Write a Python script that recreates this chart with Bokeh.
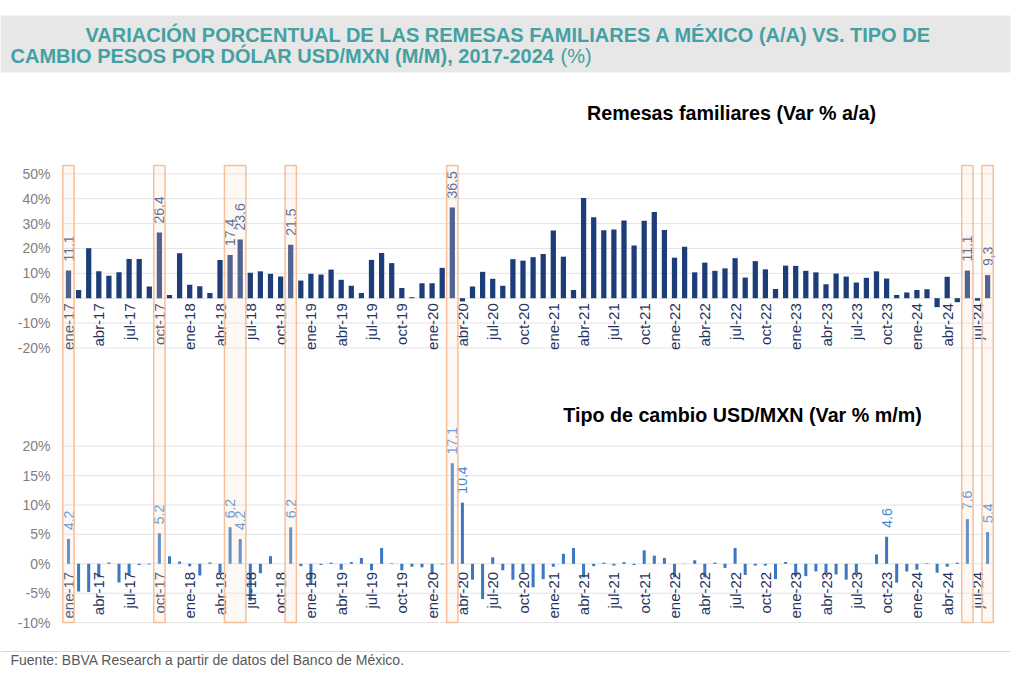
import math
from bokeh.plotting import figure
from bokeh.models import Range1d
from bokeh.core.properties import value
from bokeh.embed import file_html
from bokeh.resources import INLINE

# ---------------- data ----------------
# Monthly series, ene-17 ... ago-24 (92 months)
remesas = [
    11.1, 3.3, 20.1, 10.8, 9.0, 10.4, 15.8, 15.8, 4.7, 26.4, 1.3, 18.1,      # 2017
    5.4, 4.8, 2.1, 15.4, 17.4, 23.6, 10.2, 10.8, 9.8, 8.7, 21.5, 7.1,        # 2018
    9.8, 9.5, 11.5, 7.4, 5.0, 2.1, 15.4, 18.2, 14.1, 4.1, 0.4, 6.0,          # 2019
    6.0, 12.2, 36.5, -1.3, 4.7, 10.6, 7.8, 5.0, 15.7, 15.1, 16.5, 17.8,      # 2020
    27.2, 16.7, 3.3, 40.3, 32.5, 27.3, 27.6, 31.2, 21.2, 31.1, 34.7, 27.4,   # 2021
    16.3, 20.7, 10.4, 14.3, 11.0, 12.0, 16.1, 8.3, 14.9, 11.6, 3.7, 13.1,    # 2022
    13.0, 11.0, 10.4, 5.6, 9.9, 8.7, 6.3, 8.2, 10.8, 7.9, 1.3, 2.3,          # 2023
    3.3, 3.6, -3.6, 8.6, -1.6, 11.1, -1.0, 9.3,                              # 2024
]
tipo_cambio = [
    4.2, -4.7, -4.8, -2.3, 0.2, -3.2, -1.9, -0.2, -0.1, 5.2, 1.3, 0.4,       # 2017
    -0.4, -2.0, 0.2, -1.6, 6.2, 4.2, -6.3, -1.6, 1.3, 0.0, 6.2, -0.4,        # 2018
    -3.5, -0.2, 0.2, -1.0, 0.3, 1.0, -1.1, 2.7, 0.1, -1.1, -0.5, -0.6,       # 2019
    -1.8, -0.1, 17.1, 10.4, -2.7, -6.0, 1.1, -1.1, -2.7, -1.4, -4.0, -2.6,   # 2020
    -0.5, 1.7, 2.7, -2.3, -0.4, 0.2, -0.3, 0.3, -0.2, 2.3, 1.4, 1.0,         # 2021
    -2.3, -0.05, 0.6, -2.3, 0.2, -0.7, 2.7, -1.9, -0.3, -0.3, -2.6, 0.3,     # 2022
    -2.0, -2.1, -1.3, -1.7, -1.8, -2.7, -1.7, 0.0, 1.6, 4.6, -3.2, -1.3,     # 2023
    -1.0, 0.1, -1.5, -0.5, 0.2, 7.6, 0.0, 5.4,                               # 2024
]
tick_labels = [
    "ene-17", "abr-17", "jul-17", "oct-17",
    "ene-18", "abr-18", "jul-18", "oct-18",
    "ene-19", "abr-19", "jul-19", "oct-19",
    "ene-20", "abr-20", "jul-20", "oct-20",
    "ene-21", "abr-21", "jul-21", "oct-21",
    "ene-22", "abr-22", "jul-22", "oct-22",
    "ene-23", "abr-23", "jul-23", "oct-23",
    "ene-24", "abr-24", "jul-24",
]
tick_step = 3
rem_label_idx = [0, 9, 16, 17, 22, 38, 89, 91]
rem_label_txt = ["11.1", "26.4", "17.4", "23.6", "21.5", "36.5", "11.1", "9,3"]
fx_label_idx = [0, 9, 16, 17, 22, 38, 39, 81, 89, 91]
fx_label_txt = ["4.2", "5.2", "6.2", "4.2", "6.2", "17.1", "10.4", "4.6", "7.6", "5.4"]
highlight_first = [0, 9, 16, 22, 38, 89, 91]
highlight_last = [0, 9, 17, 22, 38, 89, 91]
rem_ticks = [-20, -10, 0, 10, 20, 30, 40, 50]
fx_ticks = [-10, -5, 0, 5, 10, 15, 20]

title_1 = "VARIACIÓN PORCENTUAL DE LAS REMESAS FAMILIARES A MÉXICO (A/A) VS. TIPO DE"
title_2 = "CAMBIO PESOS POR DÓLAR USD/MXN (M/M), 2017-2024"
title_2b = "(%)"
sub_top = "Remesas familiares (Var % a/a)"
sub_bot = "Tipo de cambio USD/MXN (Var % m/m)"
footer = "Fuente: BBVA Research a partir de datos del Banco de México."

# ---------------- layout geometry (page pixels) ----------------
W, H = 1016, 668
PX0, PY0 = 0, 0
X0_PX, DX_PX = 68.0, 10.1          # centre of first month, px per month
TOP_ZERO, TOP_UNIT = 297.7, 2.487  # top panel: y of 0 %, px per 1 %
BOT_ZERO, BOT_UNIT = 563.3, 5.88   # bottom panel

x_range = Range1d((PX0 - X0_PX) / DX_PX, (PX0 + W - X0_PX) / DX_PX)
top_range = Range1d((TOP_ZERO - (PY0 + H)) / TOP_UNIT, (TOP_ZERO - PY0) / TOP_UNIT)
bot_range = Range1d((BOT_ZERO - (PY0 + H)) / BOT_UNIT, (BOT_ZERO - PY0) / BOT_UNIT)

FONT = value("Liberation Sans")

p = figure(width=W, height=H, x_range=x_range, y_range=top_range,
           output_backend="svg", toolbar_location=None,
           x_axis_location=None, y_axis_location=None,
           min_border=0, outline_line_color=None,
           background_fill_color="white", border_fill_color="white")
p.extra_x_ranges = {"px": Range1d(PX0, PX0 + W)}
p.extra_y_ranges = {"fx": bot_range, "py": Range1d(PY0 + H, PY0)}
p.xgrid.visible = False
p.ygrid.visible = False

n = len(remesas)
months = list(range(n))

# title band
p.quad(left=[0], right=[1010], top=[15], bottom=[72], x_range_name="px", y_range_name="py",
       fill_color="#e7e7e7", line_color=None)
p.text(x=[85], y=[34], text=[title_1], x_range_name="px", y_range_name="py",
       text_font=FONT, text_font_size=value("20px"), text_font_style="bold",
       text_color="#43a1a3", text_align="left", text_baseline="middle")
p.text(x=[10], y=[55.5], text=[title_2], x_range_name="px", y_range_name="py",
       text_font=FONT, text_font_size=value("20px"), text_font_style="bold",
       text_color="#43a1a3", text_align="left", text_baseline="middle")
p.text(x=[560], y=[55.5], text=[title_2b], x_range_name="px", y_range_name="py",
       text_font=FONT, text_font_size=value("20px"), text_font_style="normal",
       text_color="#43a1a3", text_align="left", text_baseline="middle")

# subtitles
p.text(x=[731], y=[112.5], text=[sub_top], x_range_name="px", y_range_name="py",
       text_font=FONT, text_font_size=value("19.7px"), text_font_style="bold",
       text_color="black", text_align="center", text_baseline="middle")
p.text(x=[742], y=[414.5], text=[sub_bot], x_range_name="px", y_range_name="py",
       text_font=FONT, text_font_size=value("19.7px"), text_font_style="bold",
       text_color="black", text_align="center", text_baseline="middle")

# grid lines
g0, g1 = -0.6, n - 0.45
p.segment(x0=[g0] * len(rem_ticks), x1=[g1] * len(rem_ticks), y0=rem_ticks, y1=rem_ticks,
          line_color="#e3e3e3", line_width=1)
p.segment(x0=[g0] * len(fx_ticks), x1=[g1] * len(fx_ticks), y0=fx_ticks, y1=fx_ticks,
          y_range_name="fx", line_color="#e3e3e3", line_width=1)

# y tick labels
p.text(x=[50] * len(rem_ticks), y=rem_ticks, text=[f"{t}%" for t in rem_ticks],
       x_range_name="px", text_font=FONT, text_font_size=value("14px"),
       text_color="#7f7f7f", text_align="right", text_baseline="middle")
p.text(x=[50] * len(fx_ticks), y=fx_ticks, text=[f"{t}%" for t in fx_ticks],
       x_range_name="px", y_range_name="fx", text_font=FONT, text_font_size=value("14px"),
       text_color="#7f7f7f", text_align="right", text_baseline="middle")

# bars
p.vbar(x=months, top=remesas, bottom=0, width=0.52, fill_color="#1c3d78", line_color=None)
p.vbar(x=months, top=tipo_cambio, bottom=0, width=0.3, y_range_name="fx",
       fill_color="#3b78c0", line_color=None)

# category labels (rotated, hanging below zero)
tick_x = [k * tick_step for k in range(len(tick_labels))]
p.text(x=tick_x, y=[0] * len(tick_x), text=tick_labels, angle=math.pi / 2, y_offset=5,
       text_font=FONT, text_font_size=value("15px"), text_color="#1f3460",
       text_align="right", text_baseline="middle")
p.text(x=tick_x, y=[0] * len(tick_x), text=tick_labels, angle=math.pi / 2, y_offset=8,
       y_range_name="fx", text_font=FONT, text_font_size=value("15px"), text_color="#1f3460",
       text_align="right", text_baseline="middle")

# value labels
p.text(x=rem_label_idx, y=[remesas[i] for i in rem_label_idx], text=rem_label_txt,
       angle=math.pi / 2, y_offset=-9, text_font=FONT, text_font_size=value("14px"),
       text_color="#2a4e8e", text_align="left", text_baseline="middle")
p.text(x=fx_label_idx, y=[tipo_cambio[i] for i in fx_label_idx], text=fx_label_txt,
       angle=math.pi / 2, y_offset=-9, y_range_name="fx", text_font=FONT,
       text_font_size=value("14px"), text_color="#4a86d0", text_align="left",
       text_baseline="middle")

# highlight boxes (span both panels)
p.quad(left=[a - 0.56 for a in highlight_first], right=[b + 0.56 for b in highlight_last],
       top=[165] * len(highlight_first), bottom=[622] * len(highlight_first),
       y_range_name="py", fill_color="#fbe2d0", fill_alpha=0.24,
       line_color="#f6bf9a", line_width=1.5)

# footer
p.segment(x0=[0], x1=[1010], y0=[651], y1=[651], x_range_name="px", y_range_name="py",
          line_color="#d9d9d9", line_width=1)
p.text(x=[10], y=[659], text=[footer], x_range_name="px", y_range_name="py",
       text_font=FONT, text_font_size=value("14px"), text_color="#595959",
       text_align="left", text_baseline="middle")

open("out.html", "w").write(file_html(p, INLINE))
